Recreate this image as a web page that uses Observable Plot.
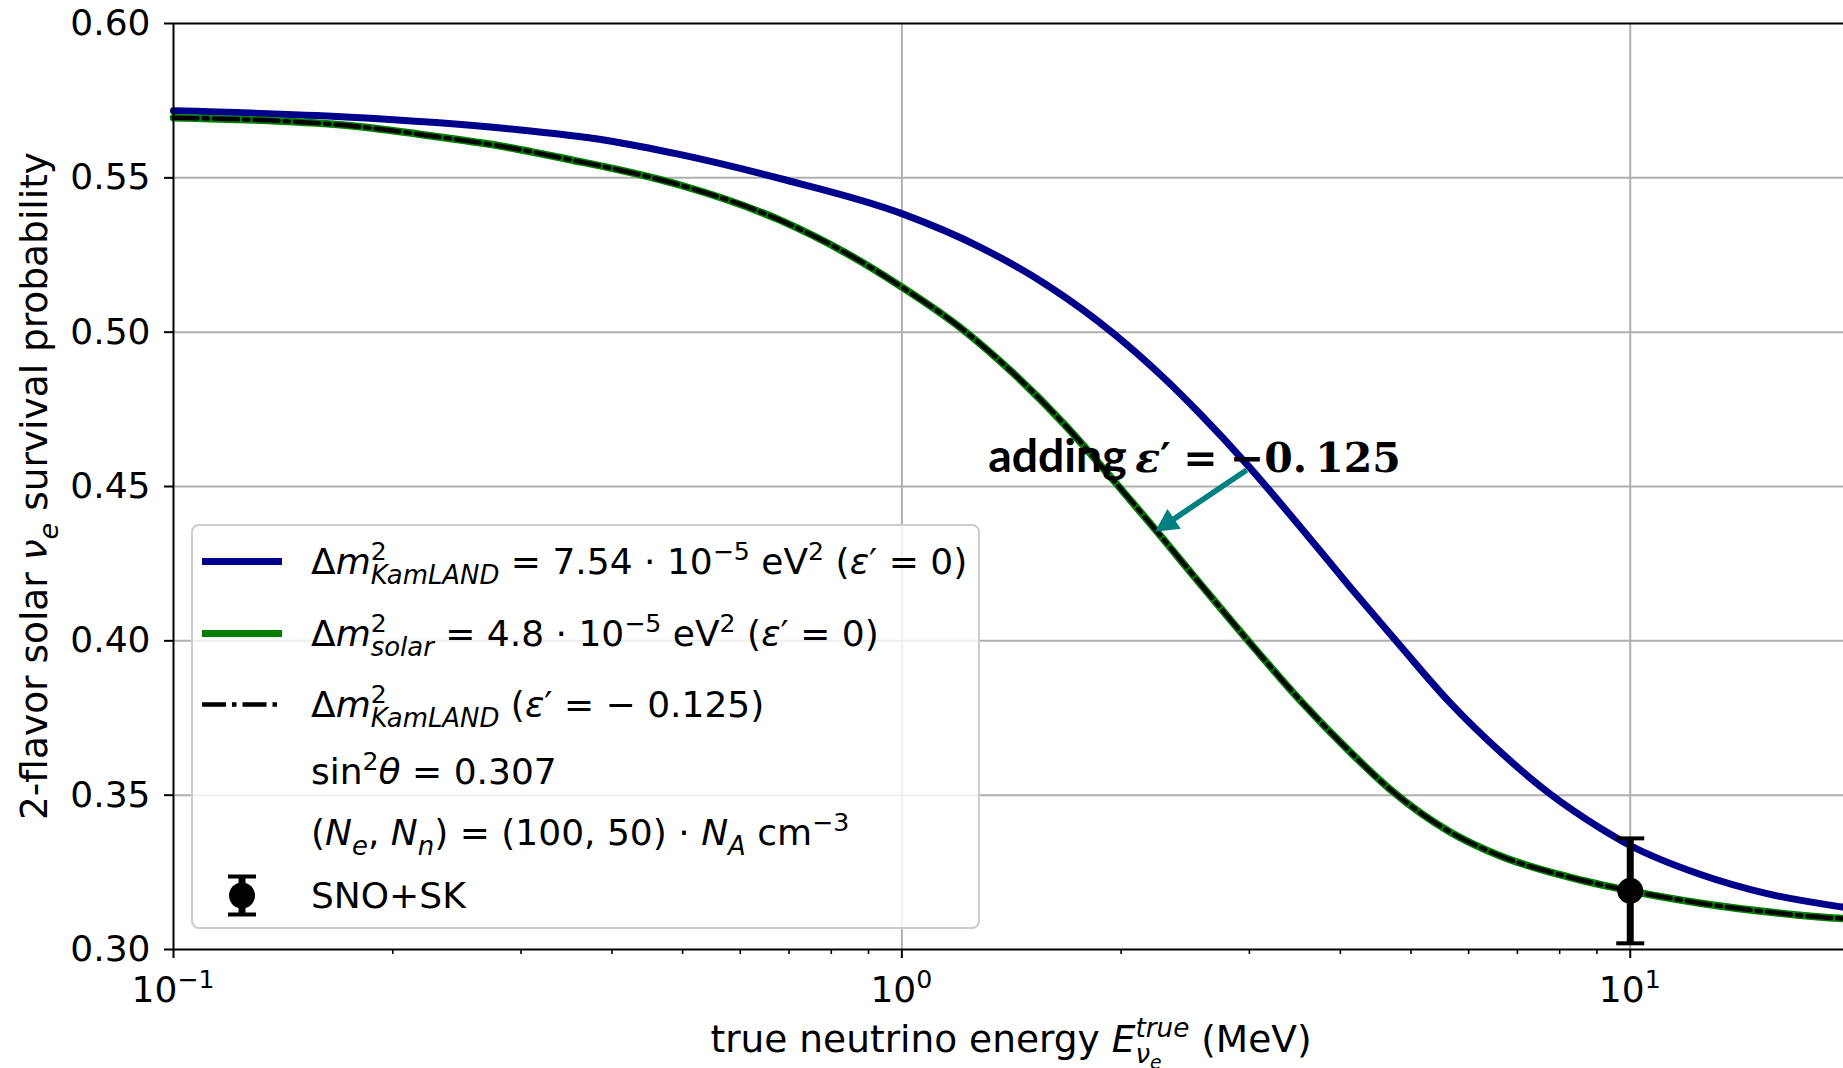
<!DOCTYPE html>
<html>
<head>
<meta charset="utf-8">
<script src="https://cdn.jsdelivr.net/npm/d3@7"></script>
<script src="https://cdn.jsdelivr.net/npm/@observablehq/plot@0.6"></script>
<style>
  html, body { margin: 0; padding: 0; background: #fff; overflow: hidden; }
  #chart { position: absolute; left: 0; top: 0; }
</style>
</head>
<body>
<div id="chart"></div>
<script>
// Survival probability curves, energy in MeV
const energyKamLAND = [0.1, 0.1725, 0.286, 0.392, 0.497, 0.682, 1.0, 1.282, 1.583, 1.954, 2.265, 2.570, 2.979, 3.526, 4.129, 4.836, 5.664, 6.633, 7.772, 9.10, 10.0, 12.49, 15.41, 19.62, 20];
const probKamLAND   = [0.5717, 0.5697, 0.5660, 0.5622, 0.5575, 0.5497, 0.5384, 0.5275, 0.5152, 0.4995, 0.4862, 0.4734, 0.4571, 0.4368, 0.4173, 0.3983, 0.3798, 0.3640, 0.3503, 0.3393, 0.3337, 0.3243, 0.3181, 0.3137, 0.3134];

const energySolar = [0.1, 0.1725, 0.2317, 0.286, 0.3532, 0.4049, 0.4969, 0.6817, 0.8416, 1.0, 1.216, 1.425, 1.669, 1.954, 2.195, 2.570, 3.011, 3.526, 4.129, 4.686, 5.664, 6.633, 8.193, 10.0, 12.49, 15.41, 19.62, 20];
const probSolar   = [0.5695, 0.5670, 0.5632, 0.5600, 0.5557, 0.5528, 0.5476, 0.5362, 0.5254, 0.5146, 0.5006, 0.4865, 0.4703, 0.4519, 0.4379, 0.4184, 0.3991, 0.3806, 0.3639, 0.3518, 0.3380, 0.3303, 0.3236, 0.3190, 0.3150, 0.3122, 0.3100, 0.3099];

// KamLAND mass splitting with epsilon' = -0.125
const energyKamLANDEps = [0.1, 0.1725, 0.2317, 0.286, 0.3532, 0.4049, 0.4969, 0.6817, 0.8416, 1.0, 1.216, 1.425, 1.669, 1.954, 2.195, 2.570, 3.011, 3.526, 4.129, 4.686, 5.664, 6.633, 8.193, 10.0, 12.49, 15.41, 19.62, 20];
const probKamLANDEps   = [0.5695, 0.5670, 0.5632, 0.5600, 0.5557, 0.5528, 0.5476, 0.5362, 0.5254, 0.5146, 0.5006, 0.4865, 0.4703, 0.4519, 0.4379, 0.4184, 0.3991, 0.3806, 0.3639, 0.3518, 0.3380, 0.3303, 0.3236, 0.3190, 0.3150, 0.3122, 0.3100, 0.3099];

// SNO+SK measurement
const snoskEnergy = [10];
const snoskProb   = [0.319];
const snoskLow    = [0.302];
const snoskHigh   = [0.336];

// Axes
const yTicks = [0.30, 0.35, 0.40, 0.45, 0.50, 0.55, 0.60];
const xMajorTicks = [0.1, 1, 10];
const xTickExponents = ["\u22121", "0", "1"];
const xMinorTicks = [0.2, 0.3, 0.4, 0.5, 0.6, 0.7, 0.8, 0.9, 2, 3, 4, 5, 6, 7, 8, 9];

// Annotation: arrow from the KamLAND curve to the shifted curve
const arrowFrom = [2.979, 0.4552];
const arrowTo   = [2.230, 0.4352];
const noteAt    = [1.316, 0.4545];

const FONT = "DejaVu Sans";
const BLUE = "#00008b", GREEN = "#008000", TEAL = "#008080";
const TICK_SIZE = 36, LABEL_SIZE = 37.5, LEGEND_SIZE = 36;
const DASHDOT = "24,6,4.5,6";

const table = (xs, ys) => xs.map((e, i) => ({e, p: ys[i]}));
const kamland = table(energyKamLAND, probKamLAND);
const solar = table(energySolar, probSolar);
const kamlandEps = table(energyKamLANDEps, probKamLANDEps);
const snosk = snoskEnergy.map((e, i) => ({e, p: snoskProb[i], lo: snoskLow[i], hi: snoskHigh[i]}));
const caps = snosk.flatMap(d => [{e: d.e, p: d.lo}, {e: d.e, p: d.hi}]);

// horizontal bar symbol for the error-bar caps
const capSymbol = {
  draw(context, size) {
    const h = Math.sqrt(size / Math.PI);
    context.moveTo(-h, 0);
    context.lineTo(h, 0);
  }
};

const chart = Plot.plot({
  width: 1843,
  height: 1068,
  marginLeft: 173,
  marginRight: -6,
  marginTop: 23,
  marginBottom: 119,
  x: {type: "log", domain: [0.1, 20]},
  y: {domain: [0.30, 0.60]},
  style: {fontFamily: FONT, fontSize: `${TICK_SIZE}px`, color: "black", background: "white"},
  marks: [
    // grid
    Plot.ruleY(yTicks.slice(1, -1), {y: d => d, stroke: "#b0b0b0", strokeWidth: 2}),
    Plot.ruleX(xMajorTicks.slice(1), {x: d => d, stroke: "#b0b0b0", strokeWidth: 2}),
    // curves
    Plot.line(kamland, {x: "e", y: "p", stroke: BLUE, strokeWidth: 7, curve: "monotone-x"}),
    Plot.line(solar, {x: "e", y: "p", stroke: GREEN, strokeWidth: 7.5, curve: "monotone-x"}),
    Plot.line(kamlandEps, {x: "e", y: "p", stroke: "black", strokeWidth: 4.5, strokeDasharray: DASHDOT, curve: "monotone-x"}),
    // data point with error bar
    Plot.ruleX(snosk, {x: "e", y1: "lo", y2: "hi", stroke: "black", strokeWidth: 7}),
    Plot.dot(caps, {x: "e", y: "p", symbol: capSymbol, r: 14, stroke: "black", strokeWidth: 4}),
    Plot.dot(snosk, {x: "e", y: "p", r: 13, fill: "black"}),
    // spines
    Plot.ruleY([yTicks[0], yTicks[yTicks.length - 1]], {y: d => d, stroke: "black", strokeWidth: 2}),
    Plot.ruleX([xMajorTicks[0]], {x: d => d, stroke: "black", strokeWidth: 2}),
    // axes
    Plot.axisY({ticks: yTicks, tickSize: 9, tickPadding: 14, strokeWidth: 2, tickFormat: d => d.toFixed(2), label: null}),
    Plot.axisX({ticks: xMajorTicks, tickSize: 9, strokeWidth: 2, tickFormat: () => "", label: null}),
    Plot.axisX({ticks: xMinorTicks, tickSize: 5, strokeWidth: 1.6, tickFormat: () => "", label: null})
  ]
});
document.getElementById("chart").append(chart);

const svg = d3.select(chart);
const sx = chart.scale("x"), sy = chart.scale("y");

// Lays out a run of text pieces (with sub/superscripts) left to right.
function layoutPieces(g, pieces, x0, size) {
  let cx = x0;
  for (const p of pieces) {
    if (p.stack) {
      let w = 0;
      for (const part of p.stack) w = Math.max(w, layoutPieces(g, part, cx, size) - cx);
      cx += w;
      continue;
    }
    const dx = (p.dx ?? 0) * size;
    const t = g.append("text")
      .attr("x", cx + dx)
      .attr("y", (p.dy ?? 0) * size)
      .attr("text-anchor", "start")
      .attr("font-size", size * (p.s ?? 1))
      .attr("font-style", p.it ? "italic" : null)
      .attr("font-weight", p.w ?? null)
      .attr("font-family", p.fam ?? null)
      .style("white-space", "pre")
      .text(p.t);
    cx += dx + t.node().getComputedTextLength();
  }
  return cx;
}
function mathText(parent, pieces, {x, y, size, anchor = "start", rotate = 0, fill = "black"}) {
  const g = parent.append("g").attr("font-family", FONT).attr("fill", fill).attr("text-anchor", "start");
  const w = layoutPieces(g, pieces, 0, size);
  const shift = anchor === "middle" ? -w / 2 : anchor === "end" ? -w : 0;
  g.attr("transform", `translate(${x},${y}) rotate(${rotate}) translate(${shift},0)`);
  return w;
}
const sup = (t, it) => ({t, s: 0.7, dy: -0.4, it});
const sub = (t, it) => ({t, s: 0.72, dy: 0.28, it});

// x tick labels 10^k
const yBase = sy.apply(yTicks[0]);
xMajorTicks.forEach((v, i) => {
  mathText(svg, [{t: "10"}, sup(xTickExponents[i])], {x: sx.apply(v), y: yBase + 53, size: TICK_SIZE, anchor: "middle"});
});

// axis titles
const xMid = (sx.apply(xMajorTicks[0]) + sx.apply(20)) / 2;
mathText(svg, [
  {t: "true neutrino energy "}, {t: "E", it: true},
  {stack: [[sup("true", true)], [{t: "\u03bd", it: true, s: 0.7, dy: 0.3}, {t: "e", it: true, s: 0.5, dy: 0.45}]]},
  {t: " (MeV)"}
], {x: xMid, y: yBase + 103, size: LABEL_SIZE, anchor: "middle"});

const yMid = (sy.apply(yTicks[0]) + sy.apply(yTicks[yTicks.length - 1])) / 2;
mathText(svg, [
  {t: "2-flavor solar "}, {t: "\u03bd", it: true}, sub("e", true), {t: " survival probability"}
], {x: 47, y: yMid, size: LABEL_SIZE, anchor: "middle", rotate: -90});

// annotation arrow
{
  const tx = sx.apply(arrowFrom[0]), ty = sy.apply(arrowFrom[1]);
  const hx = sx.apply(arrowTo[0]), hy = sy.apply(arrowTo[1]);
  const len = Math.hypot(hx - tx, hy - ty);
  const ux = (hx - tx) / len, uy = (hy - ty) / len;
  const nx = -uy, ny = ux;
  const L = 23, H = 12, s = 2.8;
  const bx = hx - ux * L, by = hy - uy * L;
  const pts = [
    [tx + nx * s, ty + ny * s], [bx + nx * s, by + ny * s], [bx + nx * H, by + ny * H],
    [hx, hy],
    [bx - nx * H, by - ny * H], [bx - nx * s, by - ny * s], [tx - nx * s, ty - ny * s]
  ];
  svg.append("polygon").attr("points", pts.map(p => p.join(",")).join(" ")).attr("fill", TEAL);
}
mathText(svg, [
  {t: "adding", fam: "Lato", w: "bold", s: 1.13},
  {t: " ", s: 0.65},
  {t: "\u03b5", fam: "DejaVu Serif", w: "bold", it: true},
  {t: "\u2032", fam: "DejaVu Serif", w: "bold"},
  {t: "=", fam: "DejaVu Serif", w: "bold", dx: 0.3},
  {t: "\u22120.", fam: "DejaVu Serif", w: "bold", dx: 0.3},
  {t: "125", fam: "DejaVu Serif", w: "bold", dx: 0.2}
], {x: sx.apply(noteAt[0]), y: sy.apply(noteAt[1]), size: 41});

// legend
{
  const lg = svg.append("g");
  lg.append("rect").attr("x", 192).attr("y", 525).attr("width", 787).attr("height", 403)
    .attr("rx", 7).attr("fill", "white").attr("fill-opacity", 0.8)
    .attr("stroke", "#cccccc").attr("stroke-width", 2);
  const hx1 = 202, hx2 = 282, tx = 311;
  const baselines = [574, 646, 717, 784, 845, 908];
  const handleY = baselines.map(b => b - 12.5);
  lg.append("line").attr("x1", hx1).attr("x2", hx2).attr("y1", handleY[0]).attr("y2", handleY[0])
    .attr("stroke", BLUE).attr("stroke-width", 7);
  lg.append("line").attr("x1", hx1).attr("x2", hx2).attr("y1", handleY[1]).attr("y2", handleY[1])
    .attr("stroke", GREEN).attr("stroke-width", 7);
  lg.append("line").attr("x1", hx1).attr("x2", hx2).attr("y1", handleY[2]).attr("y2", handleY[2])
    .attr("stroke", "black").attr("stroke-width", 4.5).attr("stroke-dasharray", DASHDOT);
  const ex = 242, ey = handleY[5];
  lg.append("line").attr("x1", ex).attr("x2", ex).attr("y1", ey - 19).attr("y2", ey + 19).attr("stroke", "black").attr("stroke-width", 7);
  [ey - 19, ey + 19].forEach(y => lg.append("line").attr("x1", ex - 14).attr("x2", ex + 14).attr("y1", y).attr("y2", y).attr("stroke", "black").attr("stroke-width", 4));
  lg.append("circle").attr("cx", ex).attr("cy", ey).attr("r", 13).attr("fill", "black");

  const rows = [
    [{t: "\u0394"}, {t: "m", it: true}, {stack: [[sup("2")], [sub("KamLAND", true)]]}, {t: " = 7.54 \u00b7 10"}, sup("\u22125"), {t: " eV"}, sup("2"), {t: " ("}, {t: "\u03b5", it: true}, {t: "\u2032 = 0)"}],
    [{t: "\u0394"}, {t: "m", it: true}, {stack: [[sup("2")], [sub("solar", true)]]}, {t: " = 4.8 \u00b7 10"}, sup("\u22125"), {t: " eV"}, sup("2"), {t: " ("}, {t: "\u03b5", it: true}, {t: "\u2032 = 0)"}],
    [{t: "\u0394"}, {t: "m", it: true}, {stack: [[sup("2")], [sub("KamLAND", true)]]}, {t: " ("}, {t: "\u03b5", it: true}, {t: "\u2032 = \u2212 0.125)"}],
    [{t: "sin"}, sup("2"), {t: "\u03b8", it: true}, {t: " = 0.307"}],
    [{t: "("}, {t: "N", it: true}, sub("e", true), {t: ", "}, {t: "N", it: true}, sub("n", true), {t: ") = (100, 50) \u00b7 "}, {t: "N", it: true}, sub("A", true), {t: " cm"}, sup("\u22123")],
    [{t: "SNO+SK"}]
  ];
  rows.forEach((r, i) => mathText(lg, r, {x: tx, y: baselines[i], size: LEGEND_SIZE}));
}
</script>
</body>
</html>
